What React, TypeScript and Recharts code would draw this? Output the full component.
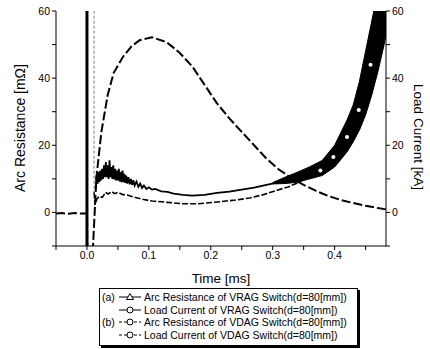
import React from "react";
import { ComposedChart, Line, Area, XAxis, YAxis } from "recharts";

const timeTicks = [-0.05, 0, 0.05, 0.1, 0.15, 0.2, 0.25, 0.3, 0.35, 0.4, 0.45];
const valueTicks = [-10, 0, 10, 20, 30, 40, 50, 60];
const timeDomain = [-0.05, 0.483];
const valueDomain = [-10, 60];

// load current (dashed, right scale = left scale)
const currentT = [-0.05, -0.04, -0.03, -0.02, -0.01, 0, 0.001, 0.0085, 0.0152, 0.0233, 0.0335, 0.043, 0.058, 0.072, 0.085, 0.105, 0.129, 0.15, 0.17, 0.19, 0.21, 0.23, 0.25, 0.27, 0.29, 0.31, 0.33, 0.35, 0.37, 0.39, 0.41, 0.43, 0.45, 0.47, 0.483];
const currentV = [-0.3, -0.2, -0.4, -0.2, -0.3, -0.3, -15, -15, 10.3, 24, 35, 41.5, 46.3, 49.5, 51.3, 52.2, 50.7, 47.5, 43.5, 38, 32.5, 28, 24, 20, 16, 12.8, 10.3, 8.2, 6.4, 4.9, 3.7, 2.8, 2, 1.3, 0.9];

// arc resistance VRAG: spike at contact parting, then noisy trace
const vragSpikeT = [0, 0];
const vragSpikeV = [-15, 75];
const vragT = [0.014, 0.0155, 0.017, 0.0185, 0.02, 0.0215, 0.023, 0.0245, 0.026, 0.0275, 0.029, 0.0305, 0.032, 0.0335, 0.035, 0.0365, 0.038, 0.0395, 0.041, 0.0425, 0.044, 0.0455, 0.047, 0.0485, 0.05, 0.0515, 0.053, 0.0545, 0.056, 0.0575, 0.059, 0.0605, 0.062, 0.0635, 0.065, 0.067, 0.069, 0.071, 0.073, 0.075, 0.077, 0.08, 0.083, 0.086, 0.089, 0.092, 0.096, 0.1, 0.105, 0.11, 0.12, 0.13, 0.14, 0.155, 0.17, 0.19, 0.21, 0.23, 0.25, 0.27, 0.29, 0.31, 0.33, 0.345];
const vragV = [7, 11, 8.5, 12, 9, 12.5, 9.5, 13, 10, 14, 10.5, 15, 10.5, 14, 10, 15.5, 10.5, 13.5, 10, 14, 9.8, 13, 9.5, 12.5, 9.5, 13, 9.2, 12, 9, 12.5, 9, 11.5, 8.8, 11, 8.6, 10.5, 8.4, 10, 8.2, 9.6, 8, 9.2, 7.6, 8.6, 7.3, 8, 7, 7.5, 6.8, 7, 6.3, 6.1, 5.6, 5.2, 5, 5.2, 5.8, 6.2, 6.8, 7.4, 8.2, 9, 10, 11];
// the thick noisy band at the end
const bandT = [0.3, 0.32, 0.34, 0.36, 0.38, 0.4, 0.42, 0.43, 0.44, 0.45, 0.46, 0.47, 0.48, 0.483];
const bandLo = [8.5, 8.6, 9, 10, 11, 13.5, 18, 21, 24.5, 29, 35, 42, 50, 53];
const bandHi = [8.9, 10.5, 12, 13.6, 15.5, 20, 27.5, 32, 39, 48, 57, 66, 75, 78];

// arc resistance VDAG
const vdagSpikeT = [0.0115, 0.0115];
const vdagSpikeV = [75, 6];
const vdagT = [0.0115, 0.013, 0.016, 0.02, 0.025, 0.03, 0.034, 0.04, 0.045, 0.05, 0.058, 0.065, 0.075, 0.09, 0.105, 0.13, 0.155, 0.18, 0.21, 0.24, 0.263, 0.285, 0.307, 0.325, 0.34, 0.36, 0.377, 0.398, 0.42, 0.439, 0.458, 0.471, 0.483];
const vdagV = [6, 2.2, 4, 4.8, 4.5, 6, 5.5, 6.2, 5.6, 6, 5.3, 5.2, 4.6, 3.9, 3.4, 3, 2.6, 2.6, 3.1, 3.7, 4.3, 5.3, 6.6, 7.6, 8.8, 10.8, 12.5, 16.5, 22.5, 30.5, 44, 55, 66];
const markerT = [0.377, 0.398, 0.42, 0.439, 0.458];
const markerV = [12.5, 16.5, 22.5, 30.5, 44];

const legendRows = [
  { prefix: "(a)", dashed: false, marker: "tri", label: "Arc Resistance of VRAG Switch(d=80[mm])" },
  { prefix: "", dashed: false, marker: "circle", label: "Load Current of VRAG Switch(d=80[mm])" },
  { prefix: "(b)", dashed: true, marker: "circle", label: "Arc Resistance of VDAG Switch(d=80[mm])" },
  { prefix: "", dashed: true, marker: "circle", label: "Load Current of VDAG Switch(d=80[mm])" },
];

const zip = (ts: number[], vs: number[]) => ts.map((t, i) => ({ t, v: vs[i] }));

const current = zip(currentT, currentV);
const vragSpike = zip(vragSpikeT, vragSpikeV);
const vrag = zip(vragT, vragV);
const band = bandT.map((t, i) => ({ t, r: [bandLo[i], bandHi[i]] }));
const vdagSpike = zip(vdagSpikeT, vdagSpikeV);
const vdag = zip(vdagT, vdagV);
const markers = zip(markerT, markerV);

const font = "'Liberation Sans', Arial, sans-serif";
const tickStyle = { fontSize: 10.5, fill: "#000", fontFamily: font };

const timeLabel = (v: number) =>
  Math.abs(v * 10 - Math.round(v * 10)) < 1e-6 ? v.toFixed(1) : "";
const valueLabel = (v: number) => (v >= 0 && v % 20 === 0 ? String(v) : "");

function LegendIcon({ dashed, marker }: { dashed: boolean; marker: string }) {
  return (
    <svg width={24} height={10} style={{ display: "block" }}>
      <line x1={1} y1={5} x2={23} y2={5} stroke="#000" strokeWidth={1} strokeDasharray={dashed ? "3 2" : undefined} />
      {marker === "tri" ? (
        <polygon points="12,1.5 15.5,7.5 8.5,7.5" fill="#fff" stroke="#000" strokeWidth={1} />
      ) : (
        <circle cx={12} cy={5} r={3} fill="#fff" stroke="#000" strokeWidth={1} />
      )}
    </svg>
  );
}

export default function App() {
  const common = { xAxisId: "b", yAxisId: "left", isAnimationActive: false, dot: false, type: "linear" as const };
  return (
    <div style={{ position: "absolute", left: 0, top: 0, width: 430, height: 349, background: "#fff", fontFamily: font, color: "#000" }}>
      <ComposedChart width={430} height={270} margin={{ top: 11, right: 0, bottom: 0, left: 0 }}>
        <XAxis
          xAxisId="b"
          dataKey="t"
          type="number"
          domain={timeDomain}
          ticks={timeTicks}
          tickFormatter={timeLabel}
          allowDataOverflow
          height={24}
          tickSize={4}
          tickMargin={2}
          stroke="#000"
          tick={tickStyle}
          interval={0}
        />
        <XAxis
          xAxisId="top"
          orientation="top"
          type="number"
          domain={timeDomain}
          ticks={timeTicks}
          allowDataOverflow
          height={0}
          mirror
          tick={false}
          tickSize={4}
          stroke="#000"
        />
        <YAxis
          yAxisId="left"
          type="number"
          domain={valueDomain}
          ticks={valueTicks}
          tickFormatter={valueLabel}
          allowDataOverflow
          width={56}
          tickSize={4}
          tickMargin={2}
          stroke="#000"
          tick={tickStyle}
          interval={0}
        />
        <YAxis
          yAxisId="right"
          orientation="right"
          type="number"
          domain={valueDomain}
          ticks={valueTicks}
          tickFormatter={valueLabel}
          allowDataOverflow
          width={44}
          tickSize={4}
          tickMargin={2}
          stroke="#000"
          tick={tickStyle}
          interval={0}
        />
        <Line {...common} data={vdagSpike} dataKey="v" stroke="#777" strokeWidth={1} strokeDasharray="3 2" />
        <Line {...common} data={vdag} dataKey="v" stroke="#000" strokeWidth={1.6} strokeDasharray="6 2" />
        <Line {...common} data={vrag} dataKey="v" stroke="#000" strokeWidth={1.8} />
        <Area
          xAxisId="b"
          yAxisId="left"
          data={band}
          dataKey="r"
          type="linear"
          stroke="#000"
          strokeWidth={1}
          fill="#000"
          fillOpacity={1}
          isAnimationActive={false}
        />
        <Line {...common} data={current} dataKey="v" stroke="#000" strokeWidth={2} strokeDasharray="9 3" />
        <Line {...common} data={vragSpike} dataKey="v" stroke="#000" strokeWidth={3} />
        <Line
          {...common}
          data={markers}
          dataKey="v"
          stroke="none"
          dot={{ r: 2, fill: "#fff", stroke: "none" }}
        />
      </ComposedChart>

      <div style={{ position: "absolute", left: 20, top: 128, transform: "translate(-50%, -50%) rotate(-90deg)", fontSize: 14, whiteSpace: "nowrap" }}>
        Arc Resistance [mΩ]
      </div>
      <div style={{ position: "absolute", left: 418, top: 137, transform: "translate(-50%, -50%) rotate(90deg)", fontSize: 13.5, whiteSpace: "nowrap" }}>
        Load Current [kA]
      </div>
      <div style={{ position: "absolute", left: 221, top: 278, transform: "translate(-50%, -50%)", fontSize: 13.5, whiteSpace: "nowrap" }}>
        Time [ms]
      </div>

      <div style={{ position: "absolute", left: 99, top: 288, width: 257, height: 56, border: "1px solid #000", boxShadow: "2px 2px 0 #000", background: "#fff" }} />
      {legendRows.map((row, i) => (
        <div
          key={i}
          style={{ position: "absolute", left: 102, top: 291 + i * 12.5, height: 12, display: "flex", alignItems: "center", fontSize: 10.5, lineHeight: "12px", whiteSpace: "nowrap" }}
        >
          <span style={{ display: "inline-block", width: 16 }}>{row.prefix}</span>
          <LegendIcon dashed={row.dashed} marker={row.marker} />
          <span style={{ marginLeft: 2 }}>{row.label}</span>
        </div>
      ))}
    </div>
  );
}
